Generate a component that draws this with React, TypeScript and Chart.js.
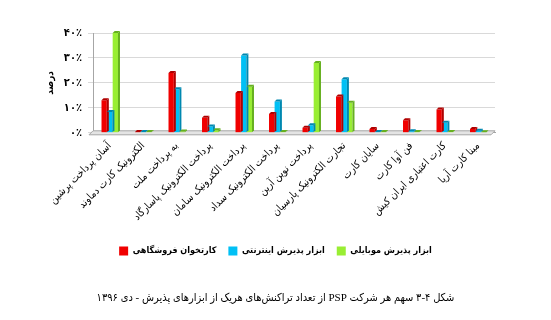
import React, { useEffect, useRef } from 'react';
import { Chart, registerables } from 'chart.js';

Chart.register(...registerables);

const categories = [
  'آسان پرداخت پرشین',
  'الکترونیک کارت دماوند',
  'به پرداخت ملت',
  'پرداخت الکترونیک پاسارگاد',
  'پرداخت الکترونیک سامان',
  'پرداخت الکترونیک سداد',
  'پرداخت نوین آرین',
  'تجارت الکترونیک پارسیان',
  'سایان کارت',
  'فن آوا کارت',
  'کارت اعتباری ایران کیش',
  'مبنا کارت آریا',
];

const posTerminal = [13, 0.3, 24, 6, 16, 7.5, 2, 14.5, 1.5, 5, 9.3, 1.5];
const internetGateway = [8.3, 0.3, 17.5, 2.5, 31, 12.5, 3, 21.5, 0.3, 0.6, 4, 0.8];
const mobileGateway = [40, 0.3, 0.5, 1, 18.5, 0.3, 28, 12, 0.3, 0.3, 0.3, 0.2];

const seriesNames = ['کارتخوان فروشگاهی', 'ابزار پذیرش اینترنتی', 'ابزار پذیرش موبایلی'];
const seriesColors = ['#f00000', '#00c0f5', '#99ee33'];
const seriesSideColors = ['#b00000', '#0088b0', '#66b020'];

const yTickLabels = ['۰٪', '۱۰٪', '۲۰٪', '۳۰٪', '۴۰٪'];
const yTitle = 'درصد';
const caption = 'شکل ۴-۳ سهم هر شرکت PSP از تعداد تراکنش‌های هریک از ابزارهای پذیرش - دی ۱۳۹۶';

const FONT = "'DejaVu Sans Condensed', 'DejaVu Sans', sans-serif";

const bar3d = {
  id: 'bar3d',
  beforeDatasetsDraw(chart: any) {
    const { ctx, chartArea } = chart;
    const d = 4;
    ctx.save();
    ctx.fillStyle = '#e4e4e4';
    ctx.strokeStyle = '#a6a6a6';
    ctx.lineWidth = 1;
    ctx.beginPath();
    ctx.moveTo(chartArea.left - d, chartArea.bottom + 2);
    ctx.lineTo(chartArea.right - d, chartArea.bottom + 2);
    ctx.lineTo(chartArea.right, chartArea.bottom - 2);
    ctx.lineTo(chartArea.left, chartArea.bottom - 2);
    ctx.closePath();
    ctx.fill();
    ctx.stroke();
    ctx.restore();
  },
  afterDatasetsDraw(chart: any) {
    const { ctx } = chart;
    const d = 2;
    ctx.save();
    chart.data.datasets.forEach((ds: any, di: number) => {
      const meta = chart.getDatasetMeta(di);
      meta.data.forEach((bar: any) => {
        const { x, y, base, width } = bar.getProps(['x', 'y', 'base', 'width'], true);
        const l = x - width / 2;
        const r = x + width / 2;
        ctx.fillStyle = seriesSideColors[di];
        ctx.beginPath();
        ctx.moveTo(r, y);
        ctx.lineTo(r + d, y - d);
        ctx.lineTo(r + d, base - d);
        ctx.lineTo(r, base);
        ctx.closePath();
        ctx.fill();
        ctx.beginPath();
        ctx.moveTo(l, y);
        ctx.lineTo(l + d, y - d);
        ctx.lineTo(r + d, y - d);
        ctx.lineTo(r, y);
        ctx.closePath();
        ctx.fill();
      });
    });
    ctx.restore();
  },
};

export default function App() {
  const ref = useRef<HTMLCanvasElement>(null);

  useEffect(() => {
    const series = [posTerminal, internetGateway, mobileGateway];
    const chart = new Chart(ref.current!, {
      type: 'bar',
      data: {
        labels: categories,
        datasets: series.map((data, i) => ({
          label: seriesNames[i],
          data,
          backgroundColor: seriesColors[i],
          borderWidth: 0,
          categoryPercentage: 0.5,
          barPercentage: 0.95,
        })),
      },
      options: {
        animation: false,
        responsive: false,
        layout: { padding: { top: 33, left: 0, right: 0, bottom: 0 } },
        plugins: {
          legend: {
            position: 'bottom',
            labels: {
              font: { family: FONT, size: 9, weight: 'bold' },
              color: '#000',
              boxWidth: 9,
              boxHeight: 9,
              padding: 12,
            },
          },
          title: {
            display: true,
            position: 'bottom',
            text: caption,
            color: '#000',
            font: { family: "'Liberation Serif', 'DejaVu Sans Condensed', 'DejaVu Sans', serif", size: 11, weight: 'normal' },
            padding: { top: 26, bottom: 15.4 },
          },
          tooltip: { enabled: false },
        },
        scales: {
          x: {
            grid: { display: false, drawTicks: false },
            border: { display: true, color: '#a6a6a6' },
            ticks: {
              autoSkip: false,
              minRotation: 45,
              maxRotation: 45,
              padding: 7,
              color: '#000',
              font: { family: FONT, size: 10.5 },
            },
            afterFit: (s: any) => {
              s.height = 101.6;
            },
          },
          y: {
            min: 0,
            max: 40,
            ticks: {
              stepSize: 10,
              padding: 6,
              color: '#000',
              font: { family: FONT, size: 11, weight: 'bold' },
              callback: (_v: any, i: number) => yTickLabels[i],
            },
            grid: { color: '#d9d9d9', tickLength: 5 },
            border: { color: '#a6a6a6' },
            title: {
              display: true,
              text: yTitle,
              color: '#000',
              font: { family: FONT, size: 10, weight: 'bold' },
              padding: { top: 44, bottom: 0 },
            },
            afterFit: (s: any) => {
              s.width = 93;
            },
          },
          y2: {
            type: 'linear',
            position: 'right',
            display: true,
            grid: { display: false, drawTicks: false },
            border: { display: false },
            ticks: { display: false },
            afterFit: (s: any) => {
              s.width = 56;
            },
          },
        },
      } as any,
      plugins: [bar3d],
    });
    return () => chart.destroy();
  }, []);

  return (
    <div style={{ position: 'fixed', left: 0, top: 0, width: 551, height: 320, background: '#fff' }}>
      <canvas ref={ref} width={551} height={320} dir="rtl" style={{ direction: 'rtl' }} />
    </div>
  );
}
